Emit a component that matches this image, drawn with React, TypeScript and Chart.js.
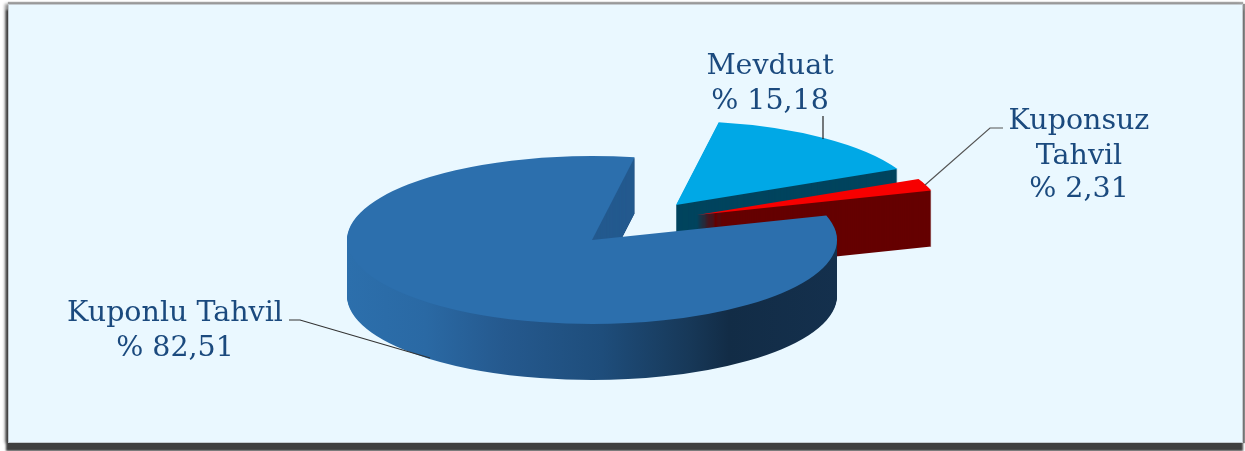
import React, { useEffect, useRef } from "react";
import { Chart, registerables } from "chart.js";

Chart.register(...registerables);

const categories = ["Kuponlu Tahvil", "Mevduat", "Kuponsuz Tahvil"];
const values = [82.51, 15.18, 2.31];
const valueLabels = ["% 82,51", "% 15,18", "% 2,31"];
const topColors = ["#2c6fad", "#00a8e6", "#f70000"];
const wallColors = ["#245a8f", "#00445e", "#650000"];

const labelLines = [
  [categories[0], valueLabels[0]],
  [categories[1], valueLabels[1]],
  ["Kuponsuz", "Tahvil", valueLabels[2]],
];

const FONT = '28.5px "DejaVu Serif"';
const TEXT = "#1b4a7e";
const CX = 592, CY = 240, R = 245, SQUASH = 84 / 245, DEPTH = 56;
const explode = [[0, 0], [84, -35], [105, -25]];
const labelAnchors = [
  { x: 175, ys: [321, 356] },
  { x: 770, ys: [74, 109] },
  { x: 1079, ys: [129, 164, 197] },
];
const leaders = [
  { color: "#333333", pts: [[289, 320], [300, 320], [430, 358]] },
  { color: "#222222", pts: [[823, 116], [823, 139]] },
  { color: "#555555", pts: [[1003, 128], [990, 128], [925, 185]] },
];

const pie3d = {
  id: "pie3d",
  beforeDatasetsDraw(chart: any) {
    const ctx = chart.ctx;
    const arcs = chart.getDatasetMeta(0).data;
    const order = [1, 2, 0];
    order.forEach((i) => {
      const arc = arcs[i];
      const base = arc.options;
      const [dx, dy] = explode[i];
      const place = (down: number) => {
        ctx.translate(CX + dx, CY + dy + down);
        ctx.scale(1, SQUASH);
        ctx.translate(-arc.x, -arc.y);
      };
      let wall: any = wallColors[i];
      if (i === 0) {
        const g = ctx.createLinearGradient(arc.x - R, 0, arc.x + R, 0);
        g.addColorStop(0, "#2c6fac");
        g.addColorStop(0.16, "#2a69a4");
        g.addColorStop(0.32, "#25598e");
        g.addColorStop(0.52, "#1e4d7b");
        g.addColorStop(0.7, "#173858");
        g.addColorStop(0.78, "#122c46");
        g.addColorStop(1, "#14304d");
        wall = g;
      }
      arc.options = { ...base, backgroundColor: wall, borderWidth: 0 };
      for (let d = DEPTH; d > 0; d--) {
        ctx.save();
        place(d);
        arc.draw(ctx);
        ctx.restore();
      }
      if (i === 0) {
        // inner cut face seen through the notch
        const a = arc.endAngle;
        const px = CX + R * Math.cos(a), py = CY + R * Math.sin(a) * SQUASH;
        arc.options = { ...base, backgroundColor: wallColors[0], borderWidth: 0 };
        ctx.save();
        ctx.beginPath();
        ctx.moveTo(CX, CY);
        ctx.lineTo(px, py);
        ctx.lineTo(px, py + DEPTH);
        ctx.lineTo(CX, CY + DEPTH);
        ctx.closePath();
        ctx.clip();
        for (let d = DEPTH; d > 0; d--) {
          ctx.save();
          place(d);
          arc.draw(ctx);
          ctx.restore();
        }
        ctx.restore();
      }
      arc.options = { ...base, borderWidth: 0 };
      ctx.save();
      place(0);
      arc.draw(ctx);
      ctx.restore();
      arc.options = base;
    });
    return false;
  },
  afterDraw(chart: any) {
    const ctx = chart.ctx;
    ctx.save();
    leaders.forEach((l) => {
      ctx.beginPath();
      l.pts.forEach(([x, y], k) => (k ? ctx.lineTo(x, y) : ctx.moveTo(x, y)));
      ctx.strokeStyle = l.color;
      ctx.lineWidth = 1.2;
      ctx.stroke();
    });
    ctx.font = FONT;
    ctx.fillStyle = TEXT;
    ctx.textAlign = "center";
    ctx.textBaseline = "alphabetic";
    labelLines.forEach((lines, i) => {
      lines.forEach((t, k) => ctx.fillText(t, labelAnchors[i].x, labelAnchors[i].ys[k]));
    });
    ctx.restore();
  },
};

export default function App() {
  const ref = useRef<HTMLCanvasElement>(null);
  useEffect(() => {
    const chart = new Chart(ref.current as HTMLCanvasElement, {
      type: "pie",
      data: {
        labels: categories,
        datasets: [{ data: values, backgroundColor: topColors, borderWidth: 0 }],
      },
      options: {
        responsive: false,
        animation: false,
        rotation: 73,
        radius: R,
        layout: { padding: 0 },
        plugins: { legend: { display: false }, tooltip: { enabled: false } },
      } as any,
      plugins: [pie3d as any],
    });
    return () => chart.destroy();
  }, []);
  return (
    <div style={{ position: "fixed", left: 0, top: 0, width: 1245, height: 451, overflow: "hidden", background: "#ffffff" }}>
      <div
        style={{
          position: "absolute",
          left: 8,
          top: 4,
          width: 1233,
          height: 437,
          background: "#eaf8ff",
          border: "1px solid #c4cbd0",
          boxShadow: "-1px 7px 2px 1px #3f3f3f, -3px 0 3px 0 #8a8a8a, 2px 0 1px 0 #8f8f8f, 0 -2px 1px 0 #a8a8a8",
        }}
      />
      <canvas ref={ref} width={1245} height={451} style={{ position: "absolute", left: 0, top: 0, display: "block" }} />
    </div>
  );
}
